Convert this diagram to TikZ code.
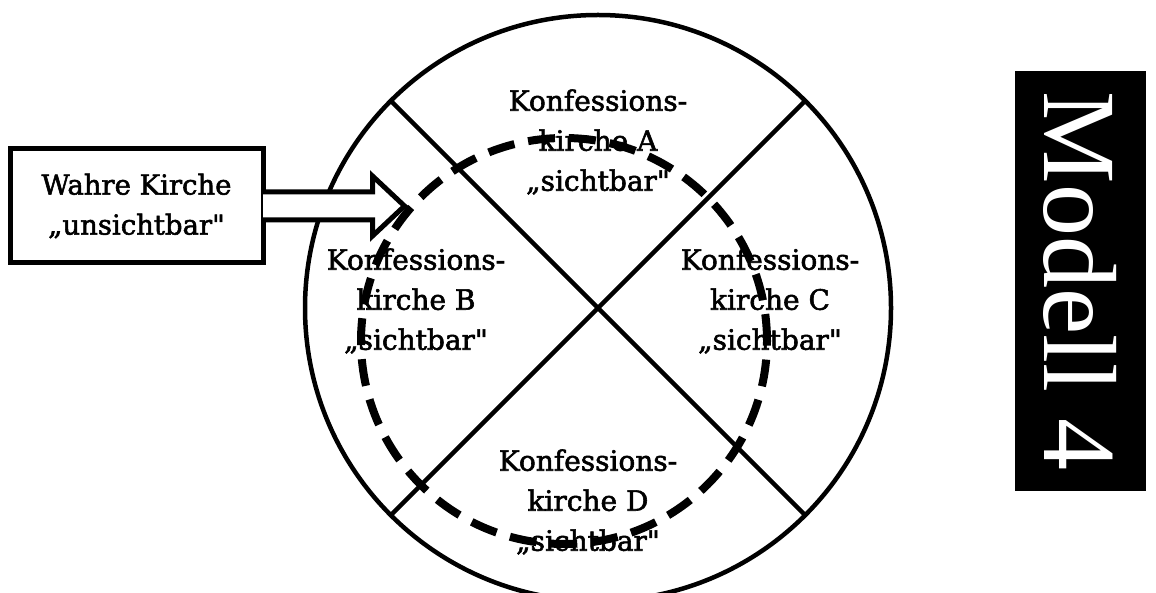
\documentclass[tikz,border=0pt]{standalone}
\usepackage{fontspec}
\setmainfont{DejaVu Serif}[Ligatures=TeXOff, FakeBold=2]
\newfontfamily\modellfont{Liberation Serif}
\usetikzlibrary{calc}

\begin{document}
\begin{tikzpicture}[x=1pt, y=-1pt,
    linie/.style={line width=4.5pt},
    rahmen/.style={line width=5pt, line join=miter},
    kirche/.style={align=center, inner sep=0pt, font=\fontsize{28}{40}\selectfont},
    unsichtbar/.style={circle, draw, line width=8pt, dash pattern=on 27pt off 14pt, inner sep=0pt, minimum size=406pt}]
        \useasboundingbox (0,0) rectangle (1156,593);
        \clip (0,0) rectangle (1156,593);

        % Der grosse Kreis mit den vier Feldern
        \node[circle, draw, linie, inner sep=0pt, outer sep=0pt, minimum size=586pt] (kreis) at (598,308) {};
        \draw[linie] (kreis.135) -- (kreis.-45);
        \draw[linie] (kreis.45) -- (kreis.225);

        % Die Konfessionskirchen
        \node[kirche] (kA) at (598,142) {Konfessions-\\kirche A\\„sichtbar"};
        \node[kirche] (kB) at (416,301) {Konfessions-\\kirche B\\„sichtbar"};
        \node[kirche] (kC) at (770,301) {Konfessions-\\kirche C\\„sichtbar"};
        \node[kirche] (kD) at (588,502) {Konfessions-\\kirche D\\„sichtbar"};

        % Kasten mit Pfeil
        \node[draw, rahmen, minimum width=253pt, minimum height=114pt, inner sep=0pt,
              align=center, font=\fontsize{27.5}{40}\selectfont] (wahre) at (136.5,206) {Wahre Kirche\\„unsichtbar"};
        \coordinate (spitze) at ($(wahre.east)+(139,0)$);
        \fill[white] ($(wahre.east)+(-2.5,-14)$) -- ++(109.5,0) -- ++(0,-16) -- (spitze)
             -- ($(wahre.east)+(107,30)$) -- ++(0,-16) -- ($(wahre.east)+(-2.5,14)$) -- cycle;
        \draw[rahmen] ($(wahre.east)+(-2.5,-14)$) -- ++(109.5,0) -- ++(0,-16) -- (spitze)
             -- ($(wahre.east)+(107,30)$) -- ++(0,-16) -- ($(wahre.east)+(-2.5,14)$);

        % Die unsichtbare Kirche
        \node[unsichtbar] (wk) at (564,341) {};

        % Modell
        \node[fill=black, text=white, rotate=-90, inner sep=0pt, minimum width=420pt, minimum height=131pt,
              font=\modellfont\fontsize{104}{104}\selectfont] (modell) at (1080.5,281) {Modell 4};
\end{tikzpicture}
\end{document}
